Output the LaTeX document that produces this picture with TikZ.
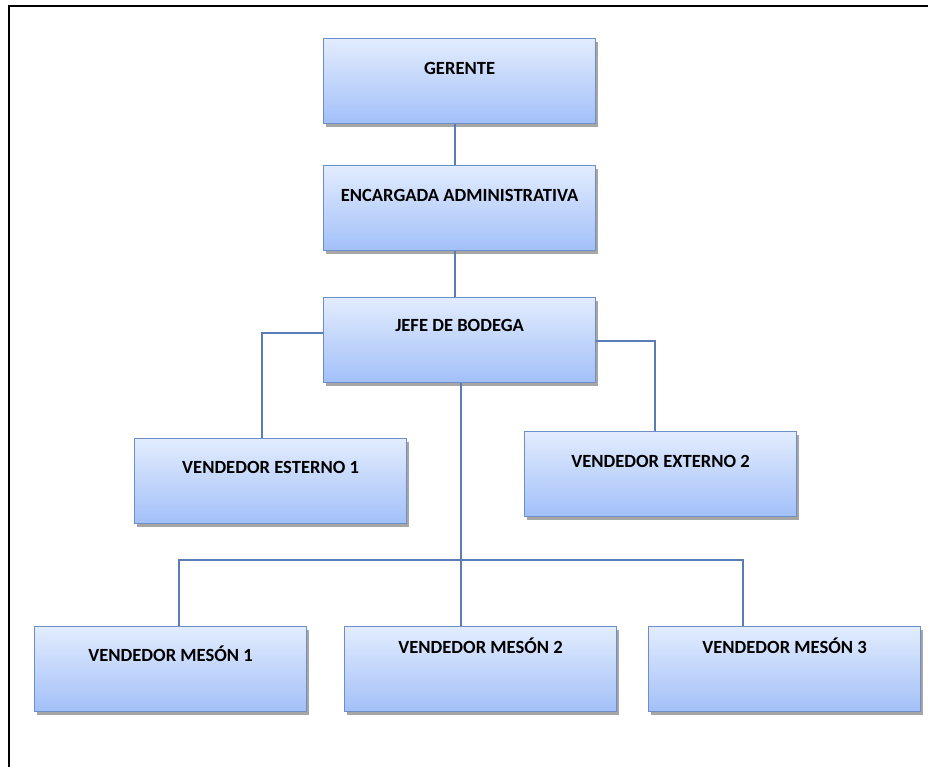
\documentclass[tikz,border=0pt]{standalone}
\usepackage{fontspec}
\setmainfont{Carlito}
\usetikzlibrary{shadows}
\definecolor{boxtop}{HTML}{E2ECFE}
\definecolor{boxbot}{HTML}{A2C0F8}
\definecolor{boxline}{HTML}{6E8FC6}
\definecolor{wire}{HTML}{5A7DB8}
\tikzset{
  role/.style={rectangle, draw=boxline, line width=1.2pt,
    top color=boxtop, bottom color=boxbot,
    minimum width=272pt, inner ysep=0pt, inner xsep=0pt,
    text height=#1, text depth=85pt-#1,
    font=\fontsize{18.6}{20}\selectfont\bfseries,
    drop shadow={shadow xshift=2pt, shadow yshift=-3pt, opacity=0.35, fill=black}},
  role/.default=36pt,
  wire/.style={draw=wire, line width=1.1pt}
}
\begin{document}
\begin{tikzpicture}[x=1pt,y=-1pt]
  \useasboundingbox (0,0) rectangle (928,767);
  % outer frame: only its top and left sides fall on the page
  \draw[black, line width=2pt] (9,767) -- (9,6) -- (928,6);

  \node[role, anchor=north west] (ger) at (323,38) {GERENTE};
  \node[role, anchor=north west] (enc) at (323,165) {ENCARGADA ADMINISTRATIVA};
  \node[role=34pt, anchor=north west] (jefe) at (323,297) {JEFE DE BODEGA};
  \node[role=35pt, anchor=north west] (ve1) at (134,438) {VENDEDOR ESTERNO 1};
  \node[role, anchor=north west] (ve2) at (524,431) {VENDEDOR EXTERNO 2};
  \node[role=35pt, anchor=north west] (vm1) at (34,626) {VENDEDOR MESÓN 1};
  \node[role=27pt, anchor=north west] (vm2) at (344,626) {VENDEDOR MESÓN 2};
  \node[role=27pt, anchor=north west] (vm3) at (648,626) {VENDEDOR MESÓN 3};

  % elbow and bus points
  \coordinate (top) at (455,0);
  \coordinate (jl) at (262,333);
  \coordinate (jr) at (655,341);
  \coordinate (bus) at (461,560);
  \coordinate (b1) at (179,560);
  \coordinate (b3) at (743,560);

  \draw[wire] (top |- ger.south) -- (top |- enc.north);
  \draw[wire] (top |- enc.south) -- (top |- jefe.north);
  \draw[wire] (jefe.west |- jl) -- (jl) -- (jl |- ve1.north);
  \draw[wire] (jefe.east |- jr) -- (jr) -- (jr |- ve2.north);
  \draw[wire] (bus |- jefe.south) -- (bus) -- (bus |- vm2.north);
  \draw[wire] (b1 |- vm1.north) -- (b1) -- (b3) -- (b3 |- vm3.north);
\end{tikzpicture}
\end{document}
